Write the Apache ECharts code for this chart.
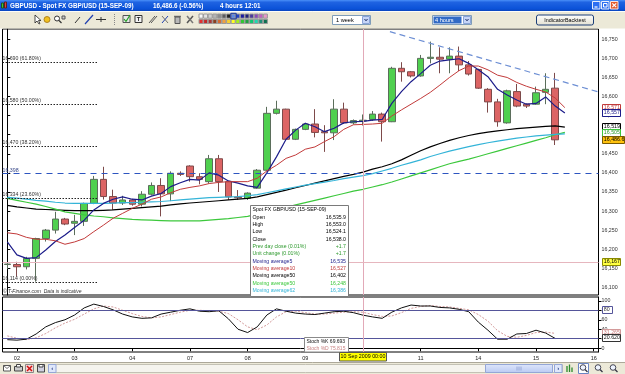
<!DOCTYPE html>
<html><head><meta charset="utf-8">
<script src="https://cdn.jsdelivr.net/npm/echarts@6/dist/echarts.min.js"></script>
<style>html,body{margin:0;padding:0;background:#fff}#c{width:625px;height:374px}</style>
</head><body><div id="c"></div>
<script>
// ---------------- data ----------------
const dayLabels = ['02','03','04','07','08','09','10','11','14','15','16'];
const dayStartIndex = [1,7,13,19,25,31,37,43,49,55,61];
const categoryCount = 62;
const crosshairIndex = 37;

const candleOpen = [16160,16160,16154,16176,16228,16250,16279,16268,16273,16320,
 16383,16338,16321,16329,16318,16344,16367,16345,16399,16418,
 16390,16377,16437,16377,16337,16333,16360,16407,16556,16567,
 16488,16514,16528,16508,16505,16567,16531,16535.9,16540,16554,
 16534,16674,16665,16654,16700,16703,16698,16706,16683,16671,
 16619,16586,16531,16613,16580,16580,16611,16622];
const candleHigh = [16166,16167,16180,16230,16253,16298,16282,16290,16322,16392,
 16416,16356,16340,16332,16352,16375,16386,16404,16404,16420,
 16399,16447,16447,16377,16355,16349,16410,16573,16589,16568,
 16516,16531,16567,16525,16593,16584,16540,16553,16562,16558,
 16678,16690,16667,16709,16744,16729,16729,16731,16693,16673,
 16622,16594,16618,16633,16582,16626,16661,16662];
const candleLow = [16148,16128,16147,16115,16220,16241,16263,16237,16261,16318,
 16330,16303,16316,16314,16312,16341,16286,16326,16392,16377,
 16370,16372,16350,16329,16329,16329,16358,16404,16553,16486,
 16486,16512,16493,16455,16486,16528,16527,16524.1,16536,16482,
 16533,16639,16650,16652,16687,16661,16661,16667,16655,16620,
 16558,16521,16529,16572,16570,16578,16580,16473];
const candleClose = [16161,16154,16176,16228,16250,16279,16266,16273,16320,16383,
 16338,16321,16329,16318,16344,16367,16345,16399,16396,16390,
 16383,16437,16377,16337,16335,16347,16407,16556,16567,16488,
 16514,16528,16506,16505,16567,16531,16537,16538.0,16554,16534,
 16674,16665,16654,16700,16703,16698,16706,16683,16659,16622,
 16586,16534,16615,16575,16575,16610,16619,16486.6];

const ma5 = [16219,16185,16176,16178,16198,16220,16237,16257,16276,16303,
 16320,16331,16337,16331,16329,16339,16346,16364,16374,16383,
 16381,16400,16394,16379,16373,16366,16362,16400,16442,16488,
 16512,16530,16521,16508,16517,16531,16534,16535,16538,16540,
 16582,16613,16639,16660,16682,16693,16696,16699,16687,16670,
 16652,16619,16604,16591,16580,16582,16599,16575,16557];
const ma10 = [16243,16240,16231,16226,16226,16222,16213,16219,16228,16246,
 16263,16281,16294,16307,16318,16331,16337,16348,16357,16362,
 16366,16372,16375,16377,16377,16377,16386,16405,16420,16438,
 16447,16462,16468,16482,16495,16514,16526,16527,16528,16530,
 16549,16565,16580,16595,16611,16630,16650,16668,16680,16680,
 16670,16656,16650,16637,16627,16619,16612,16596,16571];
const ma50 = [16315,16311,16308,16305,16304,16303,16302,16301,16301,16301,
 16302,16303,16305,16307,16309,16311,16313,16316,16319,16321,
 16323,16325,16327,16329,16331,16333,16337,16343,16349,16355,
 16361,16367,16373,16379,16385,16391,16396,16402,16410,16416,
 16424,16434,16446,16458,16468,16477,16485,16492,16498,16503,
 16507,16510,16513,16516,16518,16520,16522,16523,16520];
const ma50Green = [16333,16328,16323,16318,16312,16305,16298,16294,16290,16287,
 16285,16282,16280,16278,16277,16276,16275,16274,16274,16274,
 16274,16276,16278,16280,16283,16286,16292,16298,16304,16310,
 16316,16322,16328,16334,16340,16346,16352,16357,16363,16369,
 16376,16384,16392,16400,16408,16416,16424,16430,16436,16443,
 16450,16457,16464,16471,16478,16485,16492,16500,16506];
const ma62 = [16336,16334,16331,16328,16326,16323,16321,16320,16320,16320,
 16320,16321,16322,16322,16323,16324,16325,16327,16329,16331,
 16333,16335,16336,16337,16338,16340,16343,16348,16353,16358,
 16363,16368,16372,16376,16380,16385,16389,16393,16398,16405,
 16412,16420,16427,16434,16443,16450,16457,16463,16469,16474,
 16479,16483,16487,16491,16494,16497,16499,16501,16502];

const stochK = [18,17,19,30,45,54,60,70,85,93,88,81,72,66,63,64,72,76,80,83,
 78,77,79,62,40,33,45,70,83,78,74,72,71,74,77,78,75,69.7,66,63,
 76,85,91,89,89,86,85,82,77,55,38,19,19,30,31,38,32,20.6];
const stochD = [26,21,18,22,31,43,53,61,72,83,89,87,80,73,67,64,66,71,76,80,
 80,79,78,73,60,45,39,49,66,77,78,75,72,72,74,76,77,75.8,71,67,
 68,75,84,88,90,88,87,84,81,71,57,37,25,23,27,33,34,31.3];
const stochLevels = [80, 20];

const priceTicks = [16100,16150,16200,16250,16300,16350,16400,16450,16500,16550,16600,16650,16700,16750];
const stochTicks = [0,20,40,60,80,100];

const fibLevels = [16690,16580,16470,16334,16114];
const fibNames = ['16,690 (61.80%)','16,580 (50.00%)','16,470 (38.20%)','16,334 (23.60%)','16,114 (0.00%)'];
const fibSpan = [-0.5, 9.4];
const supportLevel = 16398;
const markerLevel = 16167;
const trendX = [39.8, 61.5];
const trendY = [16770, 16612];

const priceTagValues = [16571, 16557, 16519, 16505, 16486.6, 16167];
const priceTagText = ['16,571','16,557','16,519','16,505','16,486.6','16,167'];
const stochTagValues = [80, 31.265, 20.62];
const stochTagText = ['80','31.265','20.620'];

const infoLabels = ['Open','High','Low','Close','Prev day close (0.01%)','Unit change (0.01%)','Moving average5','Moving average10','Moving average50','Moving average50','Moving average62'];
const infoValues = ['16,535.9','16,553.0','16,524.1','16,538.0','+1.7','+1.7','16,535','16,527','16,402','16,248','16,386'];

// ---------------- chart ----------------
const FONT = 'Liberation Sans, Arial, sans-serif';
const chart = echarts.init(document.getElementById('c'), null, {renderer:'canvas', width:625, height:374});
const cats = Array.from({length: categoryCount}, (_, i) => String(i));
const labelAt = {};
dayStartIndex.forEach((idx, k) => { labelAt[idx] = dayLabels[k]; });
const candleData = candleOpen.map((o, i) => [o, candleClose[i], candleLow[i], candleHigh[i]]);
const fmt = v => Math.round(v).toLocaleString('en-US');

const C_MA5 = '#1c1c8a', C_MA10 = '#c23a3a', C_MA50 = '#000000', C_GREEN = '#3cc83c', C_CYAN = '#34b4d8';

const option = {
  animation: false,
  backgroundColor: '#ffffff',
  grid: [
    {left: 2.5, top: 29, width: 596, height: 266, show: true, borderColor: '#000', borderWidth: 1, backgroundColor: '#fff', containLabel: false, outerBoundsMode: 'none'},
    {left: 2.5, top: 297, width: 596, height: 55, show: true, borderColor: '#000', borderWidth: 1, backgroundColor: '#fff', containLabel: false, outerBoundsMode: 'none'}
  ],
  xAxis: [
    {type: 'category', gridIndex: 0, data: cats, boundaryGap: true, show: false},
    {type: 'category', gridIndex: 1, data: cats, boundaryGap: true,
      axisLine: {show: true, lineStyle: {color: '#000', width: 1}},
      axisTick: {show: true, alignWithLabel: true, length: 3, interval: (i) => labelAt[i] !== undefined, lineStyle: {color: '#000'}},
      axisLabel: {show: true, interval: (i) => labelAt[i] !== undefined, formatter: (v, i) => labelAt[i] || '', fontSize: 5.5, fontFamily: FONT, color: '#222', margin: 3, hideOverlap: false},
      splitLine: {show: false}},
    {type: 'value', gridIndex: 0, min: -0.5, max: categoryCount - 0.5, show: false}
  ],
  yAxis: [
    {type: 'value', gridIndex: 0, position: 'right', min: 16080, max: 16777, scale: true,
      axisLine: {show: true, lineStyle: {color: '#000'}},
      axisTick: {show: true, length: 3, customValues: priceTicks, lineStyle: {color: '#000'}},
      axisLabel: {show: true, customValues: priceTicks, formatter: v => fmt(v), fontSize: 5.3, fontFamily: FONT, color: '#333', margin: 3, hideOverlap: false},
      splitLine: {show: false}},
    {type: 'value', gridIndex: 1, position: 'right', min: -8, max: 108,
      axisLine: {show: true, lineStyle: {color: '#000'}},
      axisTick: {show: true, length: 3, customValues: stochTicks, lineStyle: {color: '#000'}},
      axisLabel: {show: true, customValues: stochTicks, fontSize: 5.3, fontFamily: FONT, color: '#333', margin: 3, hideOverlap: false},
      splitLine: {show: false}}
  ],
  series: [
    {type: 'candlestick', name: 'GBPUSD', xAxisIndex: 0, yAxisIndex: 0, data: candleData, barWidth: 7,
      itemStyle: {color: '#4fd04f', color0: '#dc6464', borderColor: '#5b6e5b', borderColor0: '#7d4a4a', borderWidth: 1},
      markLine: {symbol: 'none', silent: true, animation: false,
        data: [
          {xAxis: crosshairIndex, lineStyle: {color: '#e2a9b8', type: 'solid', width: 1}, label: {show: false}},
          {yAxis: markerLevel, lineStyle: {color: '#e6b6be', type: 'solid', width: 1}, label: {show: false}},
          {yAxis: supportLevel, lineStyle: {color: '#2d55c0', type: [6, 5], width: 1.2},
            label: {show: true, position: 'insideStartTop', formatter: fmt(supportLevel), fontSize: 5.3, fontFamily: FONT, color: '#3a4a8a', distance: [0, 1]}}
        ]}},
    {type: 'line', name: 'MA5', xAxisIndex: 0, yAxisIndex: 0, data: ma5, symbol: 'none', lineStyle: {color: C_MA5, width: 1.2}, z: 4},
    {type: 'line', name: 'MA10', xAxisIndex: 0, yAxisIndex: 0, data: ma10, symbol: 'none', lineStyle: {color: C_MA10, width: 1}, z: 4},
    {type: 'line', name: 'MA50', xAxisIndex: 0, yAxisIndex: 0, data: ma50, symbol: 'none', lineStyle: {color: C_MA50, width: 1.2}, z: 3},
    {type: 'line', name: 'MA50b', xAxisIndex: 0, yAxisIndex: 0, data: ma50Green, symbol: 'none', lineStyle: {color: C_GREEN, width: 1.2}, z: 3},
    {type: 'line', name: 'MA62', xAxisIndex: 0, yAxisIndex: 0, data: ma62, symbol: 'none', lineStyle: {color: C_CYAN, width: 1.2}, z: 3},
    {type: 'line', name: 'trend', xAxisIndex: 2, yAxisIndex: 0, data: trendX.map((x, i) => [x, trendY[i]]), symbol: 'none',
      lineStyle: {color: '#6d8fd4', type: [6, 4], width: 1.2}, z: 5, silent: true,
      markLine: {symbol: 'none', silent: true, animation: false,
        lineStyle: {color: '#222', type: [1.5, 1.5], width: 1},
        label: {show: true, position: 'insideStartTop', formatter: '{b}', fontSize: 5.2, fontFamily: FONT, color: '#333', distance: [0, 1]},
        data: fibLevels.map((v, k) => [{coord: [fibSpan[0], v], name: fibNames[k]}, {coord: [fibSpan[1], v]}])}},
    {type: 'line', name: 'Stoch %K', xAxisIndex: 1, yAxisIndex: 1, data: stochK, symbol: 'none', lineStyle: {color: '#111', width: 1}, z: 4,
      markLine: {symbol: 'none', silent: true, animation: false, label: {show: false},
        data: [
          ...stochLevels.map(v => ({yAxis: v, lineStyle: {color: '#55559a', type: 'solid', width: 1}})),
          {xAxis: crosshairIndex, lineStyle: {color: '#e2a9b8', type: 'solid', width: 1}}
        ]}},
    {type: 'line', name: 'Stoch %D', xAxisIndex: 1, yAxisIndex: 1, data: stochD, symbol: 'none', lineStyle: {color: '#d39a9a', width: 1, type: [2, 1.5]}, z: 3}
  ]
};
chart.setOption(option);

// ---------------- chrome & overlays ----------------
function R(x, y, w, h, fill, stroke, extra) {
  return Object.assign({type: 'rect', shape: {x, y, width: w, height: h, r: (extra && extra.r) || 0}, style: {fill: fill, stroke: stroke || null, lineWidth: 1}, z: 100, silent: true});
}
function T(x, y, text, font, fill, align, z) {
  return {type: 'text', x, y, z: z || 101, silent: true,
    style: {text, font, fill, align: align || 'left', textAlign: align || 'left', verticalAlign: 'middle', textVerticalAlign: 'middle'}};
}
function L(x1, y1, x2, y2, stroke, w, dash) {
  return {type: 'line', shape: {x1, y1, x2, y2}, style: {stroke, lineWidth: w || 1, lineDash: dash || null}, z: 101, silent: true};
}
const g = [];
// title bar
g.push(R(0, 0, 625, 11, new echarts.graphic.LinearGradient(0, 0, 0, 1, [
  {offset: 0, color: '#4a90f8'}, {offset: 0.2, color: '#1f63e2'}, {offset: 0.8, color: '#0b52d8'}, {offset: 1, color: '#0a46bf'}])));
g.push(R(1.5, 3, 2, 5, '#3cc83c', '#205020'));
g.push(R(4.5, 2, 2, 6, '#e04040', '#602020'));
g.push(T(10, 5.8, 'GBPUSD - Spot FX GBP/USD (15-SEP-09)', 'bold 6.3px ' + FONT, '#fff'));
g.push(T(153, 5.8, '16,486.6 (-0.56%)', 'bold 6.3px ' + FONT, '#fff'));
g.push(T(220, 5.8, '4 hours 12:01', 'bold 6.3px ' + FONT, '#fff'));
g.push(R(592.5, 1.5, 7.5, 7.5, '#2d6ff2', '#e8eefc'));
g.push(L(594.5, 7, 597.5, 7, '#fff', 1.2));
g.push(R(601.5, 1.5, 7.5, 7.5, '#2d6ff2', '#e8eefc'));
g.push(R(603.5, 3.5, 3.5, 3.5, null, '#fff'));
g.push(R(610.5, 1.5, 7.5, 7.5, '#e25a2e', '#fbe4dc'));
g.push(L(612.3, 3.3, 616.2, 7.2, '#fff', 1.2));
g.push(L(616.2, 3.3, 612.3, 7.2, '#fff', 1.2));
// toolbar
g.push(R(0, 11, 625, 17.5, '#ece9d8'));
g.push(L(0, 11.5, 625, 11.5, '#fdfdf8', 1));
// toolbar icons
g.push({type: 'polygon', shape: {points: [[35, 15], [35, 23], [37, 21], [39, 24], [40, 23.5], [38.5, 20.5], [41, 20.5]]}, style: {fill: '#fff', stroke: '#222', lineWidth: 0.8}, z: 101, silent: true});
g.push({type: 'circle', shape: {cx: 47, cy: 19.5, r: 3}, style: {fill: '#f0c020', stroke: '#a07010', lineWidth: 0.8}, z: 101, silent: true});
g.push({type: 'circle', shape: {cx: 57, cy: 18.5, r: 2.5}, style: {fill: '#fff', stroke: '#333', lineWidth: 1}, z: 101, silent: true});
g.push(L(59, 20.5, 61.5, 23, '#333', 1.3));
g.push(R(62, 16, 3, 3, '#ccc', '#555'));
g.push(L(75, 23, 80, 17, '#333', 1));
g.push(L(85, 24, 93, 15, '#2040b0', 1.2));
g.push(L(96, 19.5, 106, 19.5, '#333', 1));
g.push(L(101, 17, 101, 22, '#333', 1));
g.push(L(114.5, 14, 114.5, 25, '#888', 1, [1, 1]));
g.push(R(123, 15.5, 7, 7, '#e8e8e8', '#555'));
g.push(L(124, 19, 126, 21.5, '#20a020', 1.2));
g.push(L(126, 21.5, 130, 15, '#20a020', 1.2));
g.push(R(135, 15.5, 7, 7, '#f4f4f4', '#333'));
g.push(T(138.5, 19.2, 'T', 'bold 6px ' + FONT, '#222', 'center'));
g.push(L(149, 23, 155, 16, '#555', 1));
g.push(L(151, 23, 157, 16, '#555', 1));
g.push(L(162, 23, 168, 16, '#2040b0', 1));
g.push(L(162, 16, 168, 23, '#555', 0.8));
g.push(R(175, 17, 5, 6.5, '#b8b8b8', '#555'));
g.push(L(174, 16.3, 181, 16.3, '#555', 1));
g.push(L(187, 23, 193, 16, '#555', 1.5));
g.push(L(187, 16, 193, 23, '#777', 1.5));
// colour palette
const palTop = ['#f8f8f8','#e4e4e4','#cfcfcf','#b4b4b4','#8c8c8c','#5c5c5c','#222222','#5a88e8','#2040c8','#1a1aa0','#202078','#4a3a9a','#8a4ab8','#c060c0','#e898c8'];
const palBot = ['#e03030','#c02828','#a83838','#8a4020','#d86a30','#f0a040','#f8d030','#ffff20','#a0f020','#30c830','#20a040','#10c870','#20d8b0','#209078','#107050'];
palTop.forEach((c, k) => g.push(R(199 + k * 4.6, 14, 4, 4.2, c, '#9a9a9a')));
palBot.forEach((c, k) => g.push(R(199 + k * 4.6, 19.3, 4, 4.2, c, '#9a9a9a')));
g.push(R(230.8, 13.3, 5.4, 5.6, null, '#1030a0'));
// dropdowns & button
g.push(R(332.5, 15.5, 38, 9, '#fff', '#7f9db9'));
g.push(T(336, 20.2, '1 week', '5.6px ' + FONT, '#000'));
g.push(R(362.5, 16.5, 7, 7, '#c6d5f7', '#8aa4d8'));
g.push({type: 'polyline', shape: {points: [[364.5, 19], [366, 20.8], [367.5, 19]]}, style: {stroke: '#1a2a60', lineWidth: 1, fill: null}, z: 102, silent: true});
g.push(R(432.5, 15.5, 39, 9, '#fff', '#7f9db9'));
g.push(R(433.5, 16.5, 28, 7, '#316ac5'));
g.push(T(435, 20.2, '4 hours', '5.6px ' + FONT, '#fff'));
g.push(R(463.5, 16.5, 7, 7, '#c6d5f7', '#8aa4d8'));
g.push({type: 'polyline', shape: {points: [[465.5, 19], [467, 20.8], [468.5, 19]]}, style: {stroke: '#1a2a60', lineWidth: 1, fill: null}, z: 102, silent: true});
g.push(R(536.5, 15, 57, 10, new echarts.graphic.LinearGradient(0, 0, 0, 1, [{offset: 0, color: '#ffffff'}, {offset: 1, color: '#e2dfd0'}]), '#1c3f78', {r: 2}));
g.push(T(565, 20.2, 'IndicatorBacktest', '5.4px ' + FONT, '#000', 'center'));
// bottom toolbar
g.push(R(0, 362, 625, 12, '#ece9d8'));
g.push(L(0, 362.5, 625, 362.5, '#aca899', 1));
g.push(R(3.5, 365.5, 7, 5.5, '#fff', '#555'));
g.push(L(3.5, 365.5, 7, 368.5, '#555', 0.8));
g.push(L(10.5, 365.5, 7, 368.5, '#555', 0.8));
g.push(R(14.5, 366.5, 8, 4.5, '#ccc', '#444'));
g.push(R(16.5, 364.5, 4, 2.5, '#fff', '#444'));
g.push(R(25.5, 364.5, 8, 8, '#f6d4d4', '#888'));
g.push(L(27, 366, 32, 371, '#d01010', 1.5));
g.push(L(32, 366, 27, 371, '#d01010', 1.5));
g.push(R(37.5, 364.5, 7, 7.5, '#d0d0e0', '#444'));
g.push(R(39, 364.5, 4, 2.5, '#fff', '#444'));
g.push(R(48.5, 364.5, 514, 8, '#f5f4ee', '#c3c1b4'));
g.push(R(48.5, 364.5, 7.5, 8, '#dfe7fb', '#94a6d6'));
g.push(T(52.2, 368.5, '‹', 'bold 6px ' + FONT, '#233a80', 'center'));
g.push(R(485.5, 364.5, 67, 8, new echarts.graphic.LinearGradient(0, 0, 0, 1, [{offset: 0, color: '#dfe7fb'}, {offset: 1, color: '#b9c9f3'}]), '#94a6d6'));
g.push(L(517, 366.5, 517, 370.5, '#8ea0d0', 0.8));
g.push(L(519, 366.5, 519, 370.5, '#8ea0d0', 0.8));
g.push(L(521, 366.5, 521, 370.5, '#8ea0d0', 0.8));
g.push(R(554.5, 364.5, 7.5, 8, '#dfe7fb', '#94a6d6'));
g.push(T(558.2, 368.5, '›', 'bold 6px ' + FONT, '#233a80', 'center'));
g.push(L(567, 372, 567, 366, '#2a8a2a', 1.3));
g.push(L(569.5, 372, 569.5, 364.5, '#2a8a2a', 1.3));
g.push(L(572, 372, 572, 367.5, '#2a8a2a', 1.3));
g.push(R(578.5, 363.5, 10, 10, '#ffffff', '#6a86c4'));
[583, 598, 613].forEach(cx => {
  g.push({type: 'circle', shape: {cx: cx, cy: 367.5, r: 2.8}, style: {fill: '#eef4ff', stroke: '#334', lineWidth: 0.9}, z: 102, silent: true});
  g.push(L(cx + 2, 369.5, cx + 4.5, 372, '#334', 1.3));
});
// copyright
g.push(T(3, 291.6, '©IT-Finance.com  Data is indicative', 'italic 5px ' + FONT, '#333', 'left', 6));
// info box
g.push(R(250.5, 205.5, 98, 91, '#fff', '#7a7a7a'));
g.push(T(252.5, 210, 'Spot FX GBP/USD (15-SEP-09)', '5.2px ' + FONT, '#000'));
const infoColors = ['#000','#000','#000','#000','#2e9a2e','#2e9a2e', C_MA5, C_MA10, '#000', C_GREEN, C_CYAN];
infoLabels.forEach((lab, k) => {
  const y = 217.3 + k * 7.33;
  g.push(T(252.5, y, lab, '5.2px ' + FONT, infoColors[k]));
  g.push(T(346, y, infoValues[k], '5.2px ' + FONT, infoColors[k], 'right'));
});
// stochastic tooltip
g.push(R(304.5, 337.5, 44, 14.5, '#fff', '#8a8a8a'));
g.push(T(306.5, 341.3, 'Stoch %K 69.693', '5px ' + FONT, '#111'));
g.push(T(306.5, 348.4, 'Stoch %D 75.815', '5px ' + FONT, '#c98484'));
// date label at crosshair
const cx = chart.convertToPixel({xAxisIndex: 1}, crosshairIndex);
g.push(R(Math.round(cx) - 23.5, 352.5, 47, 8.5, '#ffff00', '#555'));
g.push(T(Math.round(cx), 356.9, '10 Sep 2009 00:00', '5.3px ' + FONT, '#000', 'center'));
// price tags
const tagFill = ['#fff','#fff','#fff','#fff','#ffc20e','#ffff40'];
const tagStroke = ['#c23a3a', C_MA5, '#000', C_GREEN, '#7a5a00', '#8a8a00'];
const tagColor = ['#c23a3a', C_MA5, '#000', '#2a9a2a', '#000', '#000'];
priceTagValues.forEach((v, k) => {
  const y = chart.convertToPixel({yAxisIndex: 0}, v);
  const w = priceTagText[k].length > 6 ? 22 : 18;
  g.push(R(602.5, Math.round(y) - 3.5, w, 7, tagFill[k], tagStroke[k]));
  g.push(T(603.8, Math.round(y), priceTagText[k], '5.3px ' + FONT, tagColor[k]));
});
const sFill = ['#fff','#fff','#fff'];
const sStroke = ['#55559a','#d39a9a','#333'];
const sColor = ['#333','#c87a7a','#111'];
stochTagValues.forEach((v, k) => {
  const y = chart.convertToPixel({yAxisIndex: 1}, v);
  const w = stochTagText[k].length > 2 ? 18 : 10;
  g.push(R(602.5, Math.round(y) - 3.5, w, 7, sFill[k], sStroke[k]));
  g.push(T(603.8, Math.round(y), stochTagText[k], '5.3px ' + FONT, sColor[k]));
});
chart.setOption({graphic: {elements: g}});
</script>
</body></html>
